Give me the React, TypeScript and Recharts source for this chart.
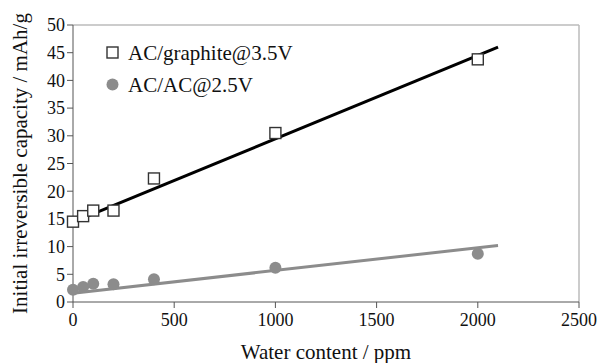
import { ComposedChart, Scatter, Line, XAxis, YAxis, ReferenceLine } from "recharts";

const waterPpm = [0, 50, 100, 200, 400, 1000, 2000];
const graphiteCap = [14.5, 15.5, 16.5, 16.5, 22.3, 30.5, 43.8];
const acacCap = [2.2, 2.7, 3.3, 3.2, 4.1, 6.2, 8.7];

const fitX = [0, 2100];
const graphiteFit = [14.4, 46.0];
const acacFit = [1.6, 10.2];

const xTicks = [0, 500, 1000, 1500, 2000, 2500];
const yTicks = [0, 5, 10, 15, 20, 25, 30, 35, 40, 45, 50];

const graphitePts = waterPpm.map((x, i) => ({ x, y: graphiteCap[i] }));
const acacPts = waterPpm.map((x, i) => ({ x, y: acacCap[i] }));
const graphiteLine = fitX.map((x, i) => ({ x, y: graphiteFit[i] }));
const acacLine = fitX.map((x, i) => ({ x, y: acacFit[i] }));

const FONT = "'Liberation Serif', 'Times New Roman', serif";

const Square = (p: any) => (
  <rect x={p.cx - 5.5} y={p.cy - 5.5} width={11} height={11} fill="#fff" stroke="#333" strokeWidth={1.4} />
);
const Dot = (p: any) => <circle cx={p.cx} cy={p.cy} r={6} fill="#8c8c8c" />;

function LegendBox() {
  return (
    <div style={{ position: "absolute", left: 105, top: 37, fontFamily: FONT, fontSize: 21, color: "#111", lineHeight: "32px" }}>
      <div style={{ display: "flex", alignItems: "center" }}>
        <svg width={16} height={16} style={{ marginRight: 7 }}>
          <rect x={2} y={2} width={11} height={11} fill="#fff" stroke="#333" strokeWidth={1.4} />
        </svg>
        AC/graphite@3.5V
      </div>
      <div style={{ display: "flex", alignItems: "center" }}>
        <svg width={16} height={16} style={{ marginRight: 7 }}>
          <circle cx={7.5} cy={7.5} r={6} fill="#8c8c8c" />
        </svg>
        AC/AC@2.5V
      </div>
    </div>
  );
}

export default function App() {
  return (
    <div style={{ width: 597, height: 363, position: "relative" }}>
      <style>{`body{margin:0}`}</style>
      <ComposedChart width={597} height={363} margin={{ top: 25, right: 18, bottom: 0, left: 0 }}>
        <XAxis
          dataKey="x" type="number" domain={[0, 2500]} ticks={xTicks} interval={0}
          tick={{ fontSize: 18, fontFamily: FONT, fill: "#111", dy: 3 }}
          tickSize={6} stroke="#555" height={61}
          label={{ value: "Water content / ppm", position: "insideBottom", offset: 4, fontSize: 21, fontFamily: FONT, fill: "#111" }}
        />
        <YAxis
          type="number" domain={[0, 50]} ticks={yTicks} interval={0}
          tick={{ fontSize: 18, fontFamily: FONT, fill: "#111" }}
          tickSize={6} stroke="#555" width={73}
          label={{ value: "Initial irreversible capacity / mAh/g", angle: -90, position: "insideLeft", offset: 20, fontSize: 21, fontFamily: FONT, fill: "#111", style: { textAnchor: "middle" } }}
        />
        <ReferenceLine y={50} stroke="#bbb" strokeWidth={1.5} />
        <ReferenceLine x={2500} stroke="#bbb" strokeWidth={1.5} />
        <Line data={acacLine} dataKey="y" stroke="#8c8c8c" strokeWidth={3} dot={false} isAnimationActive={false} legendType="none" />
        <Line data={graphiteLine} dataKey="y" stroke="#000" strokeWidth={3} dot={false} isAnimationActive={false} legendType="none" />
        <Scatter data={graphitePts} dataKey="y" shape={<Square />} isAnimationActive={false} />
        <Scatter data={acacPts} dataKey="y" shape={<Dot />} isAnimationActive={false} />
      </ComposedChart>
      <LegendBox />
    </div>
  );
}
